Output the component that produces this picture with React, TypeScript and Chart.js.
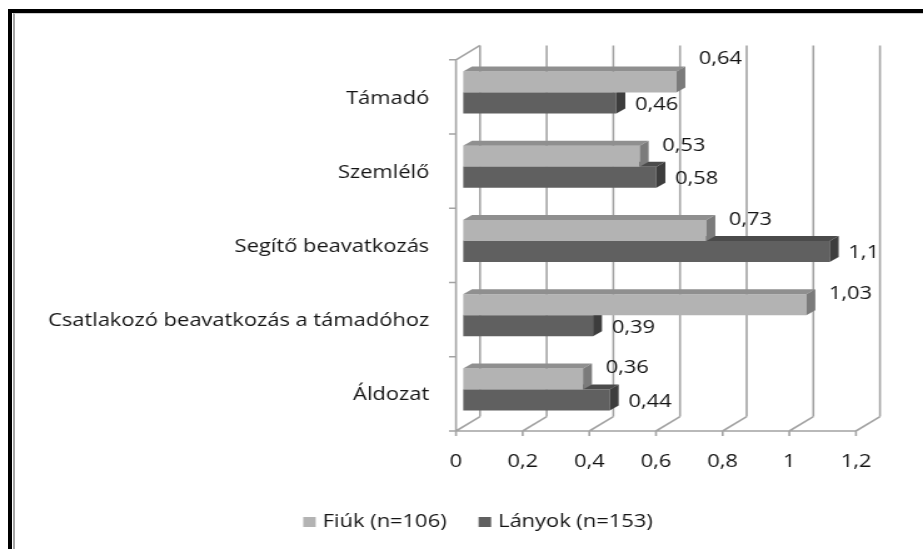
import React, { useEffect, useRef } from "react";
import { Chart, registerables } from "chart.js";

Chart.register(...registerables);

const categories = [
  "Támadó",
  "Szemlélő",
  "Segítő beavatkozás",
  "Csatlakozó beavatkozás a támadóhoz",
  "Áldozat",
];
const fiuk = [0.64, 0.53, 0.73, 1.03, 0.36];
const lanyok = [0.46, 0.58, 1.1, 0.39, 0.44];
const seriesLabels = ["Fiúk (n=106)", "Lányok (n=153)"];
const xTicks = [0, 0.2, 0.4, 0.6, 0.8, 1, 1.2];

const CW = 738; // internal canvas width, stretched to 923 by CSS
const CH = 549;
const FONT = "'Open Sans'";
const FSIZE = 17.5;
const TEXT = "#141414";
const GRID = "#a3a3a3";

const faceColors = [
  { front: "#b3b3b3", top: "#8f8f8f", side: "#7b7b7b" },
  { front: "#606060", top: "#4b4b4b", side: "#3d3d3d" },
];

const fmt = (v: number) => String(v).replace(".", ",");

const DEPTH_X = 7.2;
const DEPTH_Y = -5;
const FRONT_DX = -5.6;
const FRONT_DY = 4.4;
const BACK_DX = 13.6;
const BACK_DY = -10;

const wallPlugin = {
  id: "wall3d",
  beforeDatasetsDraw(chart: any) {
    const { ctx, chartArea } = chart;
    const xs = chart.scales.x;
    ctx.save();
    ctx.strokeStyle = GRID;
    ctx.lineWidth = 1.6;
    const fy = chartArea.bottom + FRONT_DY;
    const by = chartArea.bottom + BACK_DY;
    const topBack = chartArea.top + BACK_DY;
    const topFront = chartArea.top + FRONT_DY;
    const x0 = xs.getPixelForValue(0);
    ctx.beginPath();
    xTicks.forEach((v) => {
      const x = xs.getPixelForValue(v);
      ctx.moveTo(x + BACK_DX, topBack);
      ctx.lineTo(x + BACK_DX, by);
      ctx.moveTo(x + FRONT_DX, fy);
      ctx.lineTo(x + BACK_DX, by);
      ctx.moveTo(x + FRONT_DX, fy);
      ctx.lineTo(x + FRONT_DX, fy + 5);
    });
    ctx.moveTo(x0 + FRONT_DX, fy);
    ctx.lineTo(xs.getPixelForValue(1.2) + FRONT_DX, fy);
    ctx.moveTo(x0 + FRONT_DX, topFront);
    ctx.lineTo(x0 + FRONT_DX, fy);
    ctx.moveTo(x0 + FRONT_DX, topFront);
    ctx.lineTo(x0 + BACK_DX, topBack);
    const n = categories.length;
    const band = (chartArea.bottom - chartArea.top) / n;
    for (let i = 0; i <= n; i++) {
      const y = chartArea.top + band * i + FRONT_DY;
      ctx.moveTo(x0 + FRONT_DX - 5.6, y);
      ctx.lineTo(x0 + FRONT_DX, y);
    }
    ctx.stroke();
    ctx.restore();
  },
  afterDatasetDraw(chart: any, args: any) {
    const { ctx } = chart;
    const idx = args.index;
    const c = faceColors[idx];
    const meta = chart.getDatasetMeta(idx);
    ctx.save();
    meta.data.forEach((bar: any) => {
      const { x, base, y, height } = bar.getProps(["x", "base", "y", "height"], true);
      const top = y - height / 2;
      const bottom = y + height / 2;
      ctx.fillStyle = c.top;
      ctx.beginPath();
      ctx.moveTo(base, top);
      ctx.lineTo(x, top);
      ctx.lineTo(x + DEPTH_X, top + DEPTH_Y);
      ctx.lineTo(base + DEPTH_X, top + DEPTH_Y);
      ctx.closePath();
      ctx.fill();
      ctx.fillStyle = c.side;
      ctx.beginPath();
      ctx.moveTo(x, top);
      ctx.lineTo(x + DEPTH_X, top + DEPTH_Y);
      ctx.lineTo(x + DEPTH_X, bottom + DEPTH_Y);
      ctx.lineTo(x, bottom);
      ctx.closePath();
      ctx.fill();
    });
    ctx.restore();
  },
  afterDatasetsDraw(chart: any) {
    const { ctx } = chart;
    ctx.save();
    ctx.font = `${FSIZE}px ${FONT}`;
    ctx.fillStyle = TEXT;
    ctx.textAlign = "left";
    ctx.textBaseline = "middle";
    chart.data.datasets.forEach((ds: any, di: number) => {
      const meta = chart.getDatasetMeta(di);
      meta.data.forEach((bar: any, i: number) => {
        const { x, y, height } = bar.getProps(["x", "y", "height"], true);
        let lx: number, ly: number;
        if (di === 0) {
          lx = x + 18;
          ly = y - height / 2 + (i === 0 ? -12 : 0);
        } else {
          lx = x + 15;
          ly = y + 2;
        }
        ctx.fillText(fmt(ds.data[i]), lx, ly);
      });
    });
    ctx.restore();
  },
  afterDraw(chart: any) {
    const { ctx } = chart;
    ctx.save();
    ctx.font = `${FSIZE}px ${FONT}`;
    ctx.textBaseline = "middle";
    ctx.textAlign = "left";
    const box = 10;
    const gapBox = 5.6;
    const gapItem = 25.6;
    const widths = seriesLabels.map((t) => ctx.measureText(t).width);
    const total = widths.reduce((a, w) => a + box + gapBox + w, 0) + gapItem;
    let cx = 382.2 - total / 2;
    const cy = 522;
    seriesLabels.forEach((t, i) => {
      ctx.fillStyle = faceColors[i].front;
      ctx.fillRect(cx, cy - box / 2, box, box);
      cx += box + gapBox;
      ctx.fillStyle = TEXT;
      ctx.fillText(t, cx, cy);
      cx += widths[i] + gapItem;
    });
    ctx.restore();
  },
};

export default function App() {
  const ref = useRef<HTMLCanvasElement | null>(null);
  useEffect(() => {
    if (!ref.current) return;
    const chart = new Chart(ref.current, {
      type: "bar",
      data: {
        labels: categories,
        datasets: [
          {
            label: seriesLabels[0],
            data: fiuk,
            backgroundColor: faceColors[0].front,
            borderWidth: 0,
            categoryPercentage: 0.566,
            barPercentage: 1,
          },
          {
            label: seriesLabels[1],
            data: lanyok,
            backgroundColor: faceColors[1].front,
            borderWidth: 0,
            categoryPercentage: 0.566,
            barPercentage: 1,
          },
        ],
      },
      options: {
        indexAxis: "y",
        responsive: false,
        animation: false,
        devicePixelRatio: 1,
        layout: { padding: { left: 0, right: 48, top: 55.4, bottom: 0 } },
        plugins: {
          legend: { display: false },
          tooltip: { enabled: false },
        },
        scales: {
          x: {
            min: 0,
            max: 1.2,
            afterFit: (s: any) => {
              s.height = 122.4;
            },
            afterBuildTicks: (s: any) => {
              s.ticks = xTicks.map((v) => ({ value: v }));
            },
            grid: { display: false, drawTicks: false },
            border: { display: false },
            ticks: {
              padding: 25,
              labelOffset: FRONT_DX,
              color: TEXT,
              font: { family: FONT, size: FSIZE },
              callback: (v: any) => fmt(Number(v)),
              maxRotation: 0,
              autoSkip: false,
            },
          },
          y: {
            afterFit: (s: any) => {
              s.width = 370.2;
            },
            grid: { display: false, drawTicks: false },
            border: { display: false },
            ticks: {
              padding: 27,
              labelOffset: 6,
              color: TEXT,
              font: { family: FONT, size: FSIZE },
              autoSkip: false,
            },
          },
        },
      },
      plugins: [wallPlugin],
    });
    return () => chart.destroy();
  }, []);

  return (
    <>
      <div
        style={{
          position: "fixed",
          left: 8,
          top: 9,
          width: 915,
          height: 540,
          borderLeft: "4px solid #000",
          borderTop: "4px solid #000",
          boxSizing: "border-box",
        }}
      >
        <div
          style={{
            position: "absolute",
            left: 1,
            top: 0,
            right: 0,
            bottom: 0,
            borderLeft: "2px solid #a6a6a6",
            borderTop: "1px solid #cfcfcf",
          }}
        />
      </div>
      <canvas
        ref={ref}
        width={CW}
        height={CH}
        style={{ position: "fixed", left: 0, top: 0, width: "923px", height: "549px" }}
      />
    </>
  );
}
